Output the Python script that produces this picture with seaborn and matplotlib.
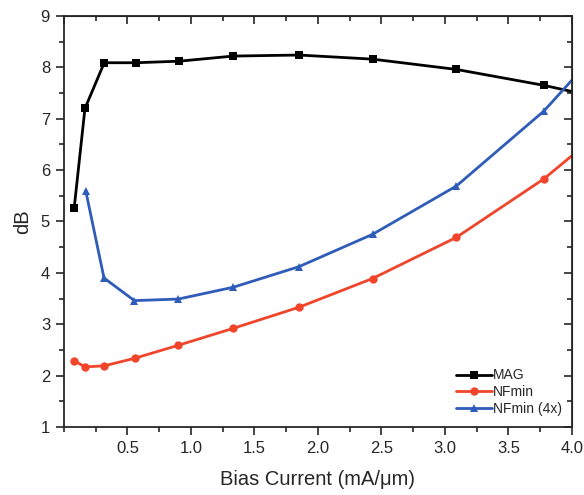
import numpy as np
import pandas as pd
import seaborn as sns
import matplotlib.pyplot as plt
from matplotlib.ticker import MultipleLocator

# values
x_mag = [0.08, 0.165, 0.317, 0.565, 0.906, 1.333, 1.85, 2.43, 3.09, 3.78, 4.0]
mag = [5.26, 7.20, 8.09, 8.09, 8.12, 8.22, 8.24, 8.16, 7.96, 7.65, 7.53]

x_nf = [0.08, 0.165, 0.317, 0.56, 0.90, 1.333, 1.85, 2.43, 3.09, 3.78, 4.0]
nfmin = [2.29, 2.17, 2.19, 2.34, 2.59, 2.92, 3.33, 3.89, 4.69, 5.83, 6.28]

x_nf4 = [0.171, 0.315, 0.554, 0.90, 1.333, 1.85, 2.43, 3.09, 3.78, 4.0]
nfmin4 = [5.60, 3.90, 3.46, 3.49, 3.72, 4.12, 4.75, 5.69, 7.15, 7.75]

sns.set_style("ticks")
plt.rcParams["font.family"] = ["Liberation Sans", "DejaVu Sans"]

fig = plt.figure(figsize=(5.84, 4.95), dpi=100)
ax = fig.add_axes([0.1096, 0.1374, 0.8696, 0.8303])

series = [
    (x_mag, mag, "MAG", "black", "s"),
    (x_nf, nfmin, "NFmin", "#f0452a", "o"),
    (x_nf4, nfmin4, "NFmin (4x)", "#2f5cb8", "^"),
]
for xs, ys, name, col, mk in series:
    df = pd.DataFrame({"x": xs, "y": ys})
    sns.lineplot(data=df, x="x", y="y", ax=ax, color=col, marker=mk,
                 markersize=6, markeredgewidth=0, linewidth=2,
                 markevery=list(range(len(xs) - 1)), label=name,
                 sort=False)

ax.set_xlim(0, 4.0)
ax.set_ylim(1, 9)
ax.xaxis.set_major_locator(MultipleLocator(0.5))
ax.xaxis.set_minor_locator(MultipleLocator(0.25))
ax.yaxis.set_major_locator(MultipleLocator(1))
ax.yaxis.set_minor_locator(MultipleLocator(0.5))
ax.set_xticks(np.arange(0.5, 4.01, 0.5))
ax.set_xticklabels([f"{v:.1f}" for v in np.arange(0.5, 4.01, 0.5)])

ax.tick_params(which="both", direction="out", width=1.2, labelsize=12,
               top=False, right=False, pad=4)
ax.tick_params(which="major", length=6)
ax.tick_params(which="minor", length=3.5)
for s in ax.spines.values():
    s.set_linewidth(1.3)

# inward ticks on top and right
ax2 = ax.secondary_xaxis("top")
ax2.xaxis.set_major_locator(MultipleLocator(0.5))
ax2.xaxis.set_minor_locator(MultipleLocator(0.25))
ax2.tick_params(which="both", direction="in", labeltop=False, width=1.2)
ax2.tick_params(which="major", length=6)
ax2.tick_params(which="minor", length=3.5)
ax3 = ax.secondary_yaxis("right")
ax3.yaxis.set_major_locator(MultipleLocator(1))
ax3.yaxis.set_minor_locator(MultipleLocator(0.5))
ax3.tick_params(which="both", direction="in", labelright=False, width=1.2)
ax3.tick_params(which="major", length=6)
ax3.tick_params(which="minor", length=3.5)

ax.set_xlabel("Bias Current (mA/μm)", fontsize=14.5, labelpad=10)
ax.set_ylabel("dB", fontsize=14.5, labelpad=6)

ax.legend(loc="lower right", bbox_to_anchor=(1.0, 0.003), frameon=False,
          fontsize=10, handlelength=2.6, handletextpad=0.05,
          labelspacing=0.2, borderaxespad=0.3)

fig.savefig("out.png", dpi=100)
